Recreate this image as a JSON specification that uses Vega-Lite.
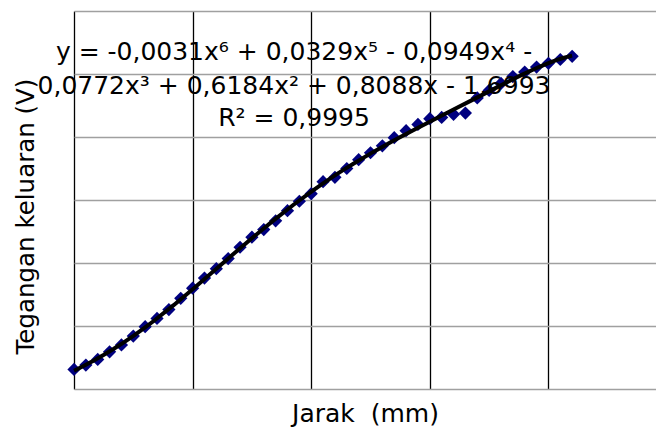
{
  "$schema": "https://vega.github.io/schema/vega-lite/v6.json",
  "width": 582,
  "height": 378,
  "autosize": {"type": "none"},
  "padding": {"left": 74, "top": 11, "right": 0, "bottom": 44},
  "background": "white",
  "view": {"stroke": null},
  "config": {"font": "DejaVu Sans"},
  "datasets": {
    "points": [
      {"x": 0.0, "y": -1.69}, {"x": 0.1, "y": -1.62}, {"x": 0.2, "y": -1.53}, {"x": 0.3, "y": -1.41},
      {"x": 0.4, "y": -1.30}, {"x": 0.5, "y": -1.16}, {"x": 0.6, "y": -1.01}, {"x": 0.7, "y": -0.88},
      {"x": 0.8, "y": -0.74}, {"x": 0.9, "y": -0.56}, {"x": 1.0, "y": -0.40}, {"x": 1.1, "y": -0.24},
      {"x": 1.2, "y": -0.09}, {"x": 1.3, "y": 0.07}, {"x": 1.4, "y": 0.25}, {"x": 1.5, "y": 0.41},
      {"x": 1.6, "y": 0.53}, {"x": 1.7, "y": 0.67}, {"x": 1.8, "y": 0.83}, {"x": 1.9, "y": 0.98},
      {"x": 2.0, "y": 1.10}, {"x": 2.1, "y": 1.29}, {"x": 2.2, "y": 1.36}, {"x": 2.3, "y": 1.50},
      {"x": 2.4, "y": 1.64}, {"x": 2.5, "y": 1.75}, {"x": 2.6, "y": 1.86}, {"x": 2.7, "y": 1.99},
      {"x": 2.8, "y": 2.10}, {"x": 2.9, "y": 2.20}, {"x": 3.0, "y": 2.29}, {"x": 3.1, "y": 2.31},
      {"x": 3.2, "y": 2.36}, {"x": 3.3, "y": 2.38}, {"x": 3.4, "y": 2.62}, {"x": 3.5, "y": 2.74},
      {"x": 3.6, "y": 2.85}, {"x": 3.7, "y": 2.96}, {"x": 3.8, "y": 3.03}, {"x": 3.9, "y": 3.11},
      {"x": 4.0, "y": 3.17}, {"x": 4.1, "y": 3.23}, {"x": 4.2, "y": 3.28}
    ],
    "labels": [
      {"line": 1, "label": "y = -0,0031x⁶ + 0,0329x⁵ - 0,0949x⁴ -"},
      {"line": 2, "label": "0,0772x³ + 0,6184x² + 0,8088x - 1,6993"},
      {"line": 3, "label": "R² = 0,9995"}
    ]
  },
  "layer": [
    {
      "data": {"name": "points"},
      "mark": {"type": "point", "shape": "diamond", "filled": true, "color": "#000080", "size": 175, "opacity": 1},
      "encoding": {
        "x": {
          "field": "x", "type": "quantitative",
          "scale": {"domain": [0, 4.907], "nice": false, "zero": false},
          "axis": {
            "title": "Jarak\u00a0\u00a0(mm)", "titleFontSize": 25, "titleFontWeight": "normal", "titleColor": "black",
            "titleFont": "DejaVu Sans", "titlePadding": 12,
            "values": [0, 1, 2, 3, 4], "labels": false, "ticks": false, "domain": false,
            "grid": true, "gridColor": "black", "gridWidth": 1.3, "gridOpacity": 1
          }
        },
        "y": {
          "field": "y", "type": "quantitative",
          "scale": {"domain": [-2, 4], "nice": false, "zero": false},
          "axis": {
            "title": "Tegangan keluaran (V)", "titleFontSize": 24.5, "titleFontWeight": "normal", "titleColor": "black",
            "titleFont": "DejaVu Sans", "titlePadding": 36, "titleY": 205,
            "values": [-2, -1, 0, 1, 2, 3, 4], "labels": false, "ticks": false, "domain": false,
            "grid": true, "gridColor": "#a0a0a0", "gridWidth": 1.5, "gridOpacity": 1
          }
        }
      }
    },
    {
      "data": {"name": "points"},
      "transform": [{"regression": "y", "on": "x", "method": "poly", "order": 6}],
      "mark": {"type": "line", "color": "black", "strokeWidth": 4},
      "encoding": {
        "x": {"field": "x", "type": "quantitative"},
        "y": {"field": "y", "type": "quantitative"}
      }
    },
    {
      "data": {"name": "labels"},
      "transform": [{"filter": "datum.line == 1"}],
      "mark": {"type": "text", "align": "center", "baseline": "alphabetic", "fontSize": 25, "font": "DejaVu Sans", "color": "black"},
      "encoding": {"x": {"datum": 1.855, "type": "quantitative"}, "y": {"datum": 3.229, "type": "quantitative"}, "text": {"field": "label"}}
    },
    {
      "data": {"name": "labels"},
      "transform": [{"filter": "datum.line == 2"}],
      "mark": {"type": "text", "align": "center", "baseline": "alphabetic", "fontSize": 25, "font": "DejaVu Sans", "color": "black"},
      "encoding": {"x": {"datum": 1.855, "type": "quantitative"}, "y": {"datum": 2.69, "type": "quantitative"}, "text": {"field": "label"}}
    },
    {
      "data": {"name": "labels"},
      "transform": [{"filter": "datum.line == 3"}],
      "mark": {"type": "text", "align": "center", "baseline": "alphabetic", "fontSize": 25, "font": "DejaVu Sans", "color": "black"},
      "encoding": {"x": {"datum": 1.855, "type": "quantitative"}, "y": {"datum": 2.171, "type": "quantitative"}, "text": {"field": "label"}}
    }
  ]
}
